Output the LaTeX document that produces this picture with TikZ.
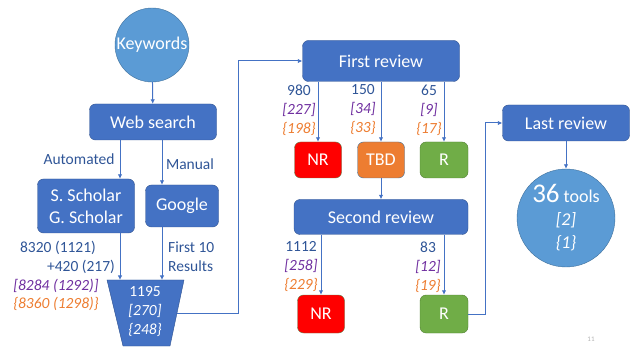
\documentclass[tikz,border=0pt]{standalone}
\usepackage{fontspec}
\setmainfont{Carlito}
\usepackage{tikz}
\usetikzlibrary{arrows.meta}

\definecolor{boxblue}{HTML}{4472C4}
\definecolor{boxline}{HTML}{2F528F}
\definecolor{bubblue}{HTML}{5B9BD5}
\definecolor{bubline}{HTML}{41719C}
\definecolor{lblblue}{HTML}{2F5597}
\definecolor{purp}{HTML}{7030A0}
\definecolor{orng}{HTML}{ED7D31}
\definecolor{nored}{HTML}{FF0000}
\definecolor{okgreen}{HTML}{70AD47}
\definecolor{okline}{HTML}{507E32}

\tikzset{
  box/.style={draw=boxline, fill=boxblue, rounded corners=6pt, text=white,
    font=\fontsize{18}{22}\selectfont, inner sep=0pt, align=center},
  bubble/.style={circle, draw=bubline, fill=bubblue, text=white, inner sep=0pt, align=center},
  arr/.style={draw=boxblue, line width=1pt, -{Latex[length=4.5pt,width=4.5pt]}},
  lbl/.style={text=lblblue, font=\fontsize{15.5}{19}\selectfont, inner sep=0pt, align=center},
}

\begin{document}
\begin{tikzpicture}[x=1pt,y=-1pt]
	\useasboundingbox (0,0) rectangle (630,350);

	%Shape: Circle
	\node [bubble, minimum size=74pt, font=\fontsize{18}{22}\selectfont] (kw) at (152,45) {Keywords};
	%Shape: Rectangle
	\node [box, minimum width=127pt, minimum height=36pt] (web) at (153,122) {Web search};
	\node [box, minimum width=97pt, minimum height=54pt] (ss) at (86,206) {S. Scholar\\G. Scholar};
	\node [box, minimum width=73pt, minimum height=42pt] (goo) at (182,206) {Google};
	%Shape: Trapezoid
	\draw [draw=boxline, fill=boxblue] (107,280) -- (184,280) -- (170,346) -- (123,346) -- cycle;
	\coordinate (totin1) at (120,280);
	\coordinate (totin2) at (162,280);
	\coordinate (totout) at (177,313);
	\node [lbl, text=white] (tot) at (145,312) {1195\\{}\textit{[270]}\\{}\textit{\{248\}}};

	\node [box, minimum width=157pt, minimum height=41pt] (fr) at (381,61) {First review};
	\node [box, fill=nored, draw=okline!70!gray, minimum width=47pt, minimum height=36pt] (nr1) at (318,160) {NR};
	\node [box, fill=orng, draw=bubline, minimum width=47pt, minimum height=36pt] (tbd) at (381,160) {TBD};
	\node [box, fill=okgreen, draw=okline, minimum width=48pt, minimum height=36pt] (r1) at (444,160) {R};

	\node [box, minimum width=174pt, minimum height=35pt] (sr) at (381,217) {Second review};
	\node [box, fill=nored, draw=okline!70!gray, minimum width=47pt, minimum height=38pt] (nr2) at (321,314) {NR};
	\node [box, fill=okgreen, draw=okline, minimum width=48pt, minimum height=38pt] (r2) at (444,314) {R};

	\node [box, minimum width=127pt, minimum height=36pt] (lr) at (566,123) {Last review};
	\node [bubble, minimum size=98pt, font=\fontsize{18}{23}\selectfont] (tools) at (566,218)
	  {{\fontsize{27}{27}\selectfont 36} tools\\{}\textit{[2]}\\{}\textit{\{1\}}};

	%Straight Lines
	\draw [arr] (kw) -- (web);
	\draw [arr] ([xshift=-33pt]web.south) -- ([xshift=-33pt]web.south |- ss.north);
	\draw [arr] ([xshift=9pt]web.south) -- ([xshift=9pt]web.south |- goo.north);
	\draw [arr] (ss.south -| totin1) -- (totin1);
	\draw [arr] (goo.south -| totin2) -- (totin2);
	\draw [arr] (totout) -- ++(61,0) |- (fr.west);
	\draw [arr] (fr.south -| nr1) -- (nr1);
	\draw [arr] (fr.south -| tbd) -- (tbd);
	\draw [arr] (fr.south -| r1) -- (r1);
	\draw [arr] (tbd) -- (sr);
	\draw [arr] (sr.south -| nr2) -- (nr2);
	\draw [arr] (sr.south -| r2) -- (r2);
	\draw [arr] (r2.east) -- ++(17,0) |- (lr.west);
	\draw [arr] (lr) -- (tools);

	% Text Node
	\node [lbl] (auto) at (79,159) {Automated};
	\node [lbl] (man) at (190,164) {Manual};
	\node [lbl] (cnt1) at (58,248) {8320 (1121)};
	\node [lbl] (cnt2) at (81,267) {+420 (217)};
	\node [lbl, text=purp] (cnt3) at (56,286) {\textit{[8284 (1292)]}};
	\node [lbl, text=orng] (cnt4) at (56,304) {\textit{\{8360 (1298)\}}};
	\node [lbl, align=left, anchor=west] (first10) at (168,257) {First 10\\Results};

	% Text Node
	\node [lbl] (nrnum1) at (299,110) {980\\{}\textcolor{purp}{\textit{[227]}}\\{}\textcolor{orng}{\textit{\{198\}}}};
	\node [lbl] (tbdnum) at (363,110) {150\\{}\textcolor{purp}{\textit{[34]}}\\{}\textcolor{orng}{\textit{\{33\}}}};
	\node [lbl] (rnum1) at (429,110) {65\\{}\textcolor{purp}{\textit{[9]}}\\{}\textcolor{orng}{\textit{\{17\}}}};
	\node [lbl] (nrnum2) at (301,267) {1112\\{}\textcolor{purp}{\textit{[258]}}\\{}\textcolor{orng}{\textit{\{229\}}}};
	\node [lbl] (rnum2) at (428,267) {83\\{}\textcolor{purp}{\textit{[12]}}\\{}\textcolor{orng}{\textit{\{19\}}}};

	% Text Node
	\node [text=gray!60, font=\fontsize{7}{8}\selectfont, inner sep=0pt] (pg) at (591,339) {11};

\end{tikzpicture}
\end{document}
